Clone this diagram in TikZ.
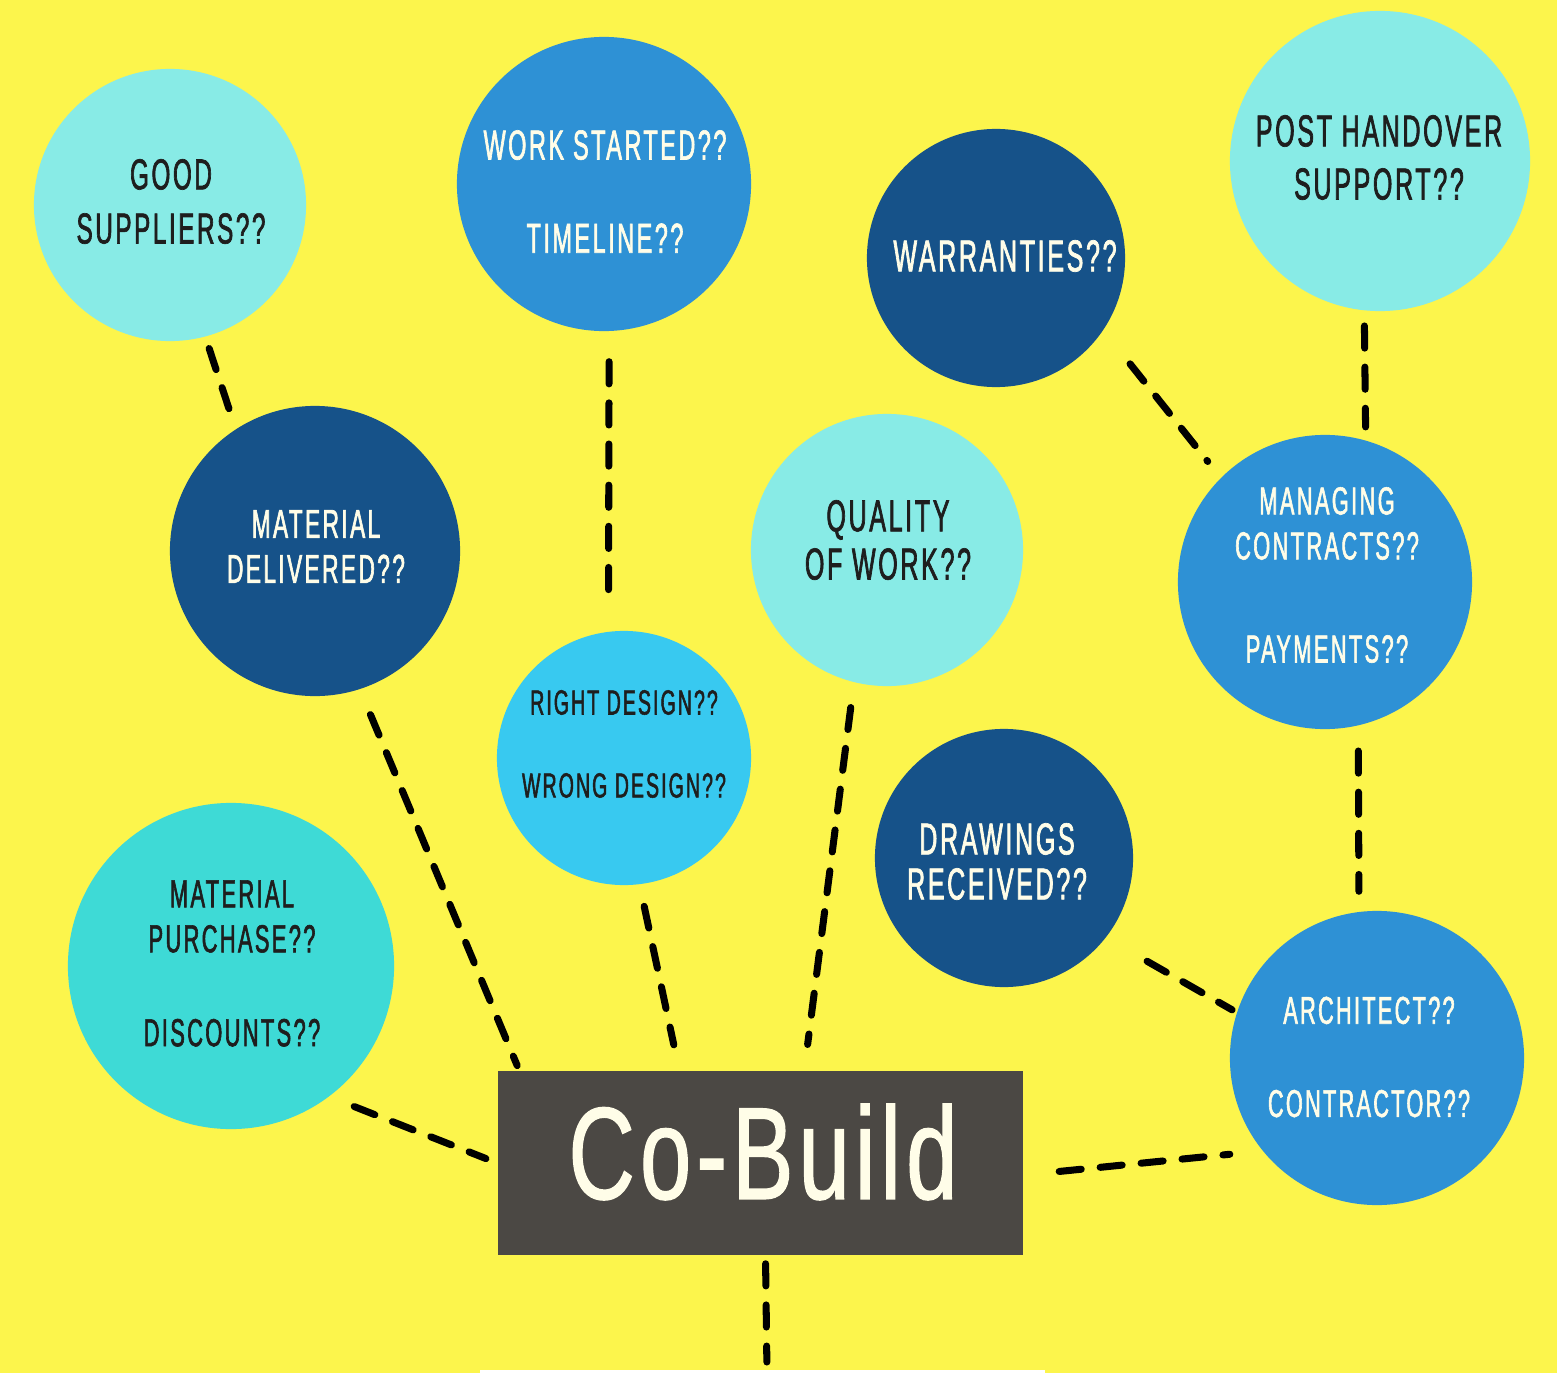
\documentclass[tikz,border=0pt]{standalone}
\usepackage{fontspec}
\setmainfont{Liberation Sans}[FakeStretch=0.56, LetterSpace=6, FakeBold=1.5]
\newfontfamily\titlefont{Liberation Sans}[FakeStretch=0.7, LetterSpace=4, FakeBold=1]
\usepackage{tikz}
\definecolor{bgyellow}{RGB}{252,245,76}
\definecolor{paleaqua}{RGB}{136,235,230}
\definecolor{midblue}{RGB}{46,145,213}
\definecolor{navyblue}{RGB}{22,82,137}
\definecolor{skyblue}{RGB}{56,201,240}
\definecolor{turq}{RGB}{62,218,214}
\definecolor{boxgray}{RGB}{75,72,68}
\definecolor{creamtext}{RGB}{255,253,232}
\definecolor{inkblack}{RGB}{30,30,30}

\begin{document}
\begin{tikzpicture}[
    x=0.01cm, y=-0.01cm,
    bubble/.style={circle, inner sep=0pt, minimum size=#1},
    qtext/.style={align=center, inner sep=0pt},
    link/.style={line width=2pt, line cap=round, dash pattern=on 6.3pt off 5.4pt}
]

% Background
\fill[bgyellow] (0,0) rectangle (1557,1373);
\fill[white] (480,1370) rectangle (1045,1373);
\useasboundingbox (0,0) rectangle (1557,1373);

% Question bubbles
\node[bubble=2.72cm, fill=paleaqua] (gs) at (170,205) {};
\node[bubble=2.94cm, fill=midblue] (ws) at (604,184) {};
\node[bubble=2.58cm, fill=navyblue] (wa) at (996,258) {};
\node[bubble=3.00cm, fill=paleaqua] (ph) at (1380,161) {};
\node[bubble=2.90cm, fill=navyblue] (md) at (315,551) {};
\node[bubble=2.72cm, fill=paleaqua] (qw) at (887,550) {};
\node[bubble=2.94cm, fill=midblue] (mc) at (1325,582) {};
\node[bubble=2.54cm, fill=skyblue] (rd) at (624,758) {};
\node[bubble=2.58cm, fill=navyblue] (dr) at (1004,858) {};
\node[bubble=3.26cm, fill=turq] (mp) at (231,966) {};
\node[bubble=2.94cm, fill=midblue] (ar) at (1377,1058) {};

% Bubble texts
\node[qtext, text=inkblack, font=\fontsize{12.3}{15.4}\selectfont] (gst) at (171,201.5) {GOOD\\SUPPLIERS??};
\node[qtext, text=creamtext, font=\fontsize{11.9}{26.5}\selectfont] (wst) at (605,191.5) {WORK STARTED??\\TIMELINE??};
\node[qtext, text=creamtext, font=\fontsize{12.7}{15}\selectfont] (wat) at (1005,256) {WARRANTIES??};
\node[qtext, text=inkblack, font=\fontsize{12.7}{15.1}\selectfont] (pht) at (1379,157.5) {POST HANDOVER\\SUPPORT??};
\node[qtext, text=creamtext, font=\fontsize{11.5}{12.8}\selectfont] (mdt) at (316,546.5) {MATERIAL\\DELIVERED??};
\node[qtext, text=inkblack, font=\fontsize{12.7}{13.7}\selectfont] (qwt) at (888,540) {QUALITY\\OF WORK??};
\node[qtext, text=creamtext, font=\fontsize{11.1}{12.8}\selectfont] (mct) at (1327,575) {MANAGING\\CONTRACTS??\\[16.5pt]PAYMENTS??};
\node[qtext, text=inkblack, font=\fontsize{9.9}{23.6}\selectfont] (rdt) at (624,744) {RIGHT DESIGN??\\WRONG DESIGN??};
\node[qtext, text=creamtext, font=\fontsize{12.7}{12.8}\selectfont] (drt) at (997,861.5) {DRAWINGS\\RECEIVED??};
\node[qtext, text=inkblack, font=\fontsize{11.1}{12.8}\selectfont] (mpt) at (232,963.5) {MATERIAL\\PURCHASE??\\[13.9pt]DISCOUNTS??};
\node[qtext, text=creamtext, font=\fontsize{11}{26.5}\selectfont] (art) at (1369,1057) {ARCHITECT??\\CONTRACTOR??};

% Central box
\node[rectangle, fill=boxgray, minimum width=5.25cm, minimum height=1.84cm, inner sep=0pt] (cb) at (760.5,1163) {};
\node[text=creamtext, inner sep=0pt, font=\titlefont\fontsize{37.3}{40}\selectfont] (cbtext) at (763,1152) {Co-Build};
\coordinate (foot) at (767,1373);

% Dashed links
\draw[link, shorten <=0.12cm, shorten >=0.08cm] (gs.-75) -- (md.123);
\draw[link, shorten <=0.30cm, shorten >=0.24cm] (ws.-88) -- (rd.97);
\draw[link, shorten <=0.425cm, shorten >=0.205cm] (wa.-34.7) -- (mc.135);
\draw[link, shorten <=0.15cm, shorten >=0.13cm] (ph.-96) -- (mc.74);
\draw[link, shorten <=0.25cm, shorten >=0.20cm] (mc.-77.4) -- (ar.97.8);
\draw[link, shorten <=0.27cm, shorten >=0.05cm] (md.-72) -- ([xshift=0.22cm]cb.north west);
\draw[link, shorten <=0.22cm, shorten >=0.26cm] (rd.-83) -- ([xshift=1.82cm]cb.north west);
\draw[link, shorten <=0.25cm, shorten >=0.26cm] (qw.-104) -- ([xshift=3.07cm]cb.north west);
\draw[link, shorten <=0.47cm, shorten >=0.05cm] (dr.-38) -- (ar.162);
\draw[link, shorten <=0.265cm, shorten >=0.12cm] (mp.-53.5) -- (cb.west);
\draw[link, shorten <=0.355cm, shorten >=0.325cm] ([yshift=-0.12cm]cb.east) -- (ar.219.8);
\draw[link, shorten <=0.08cm, shorten >=0.11cm] ([xshift=0.05cm]cb.south) -- (foot);

\end{tikzpicture}
\end{document}
